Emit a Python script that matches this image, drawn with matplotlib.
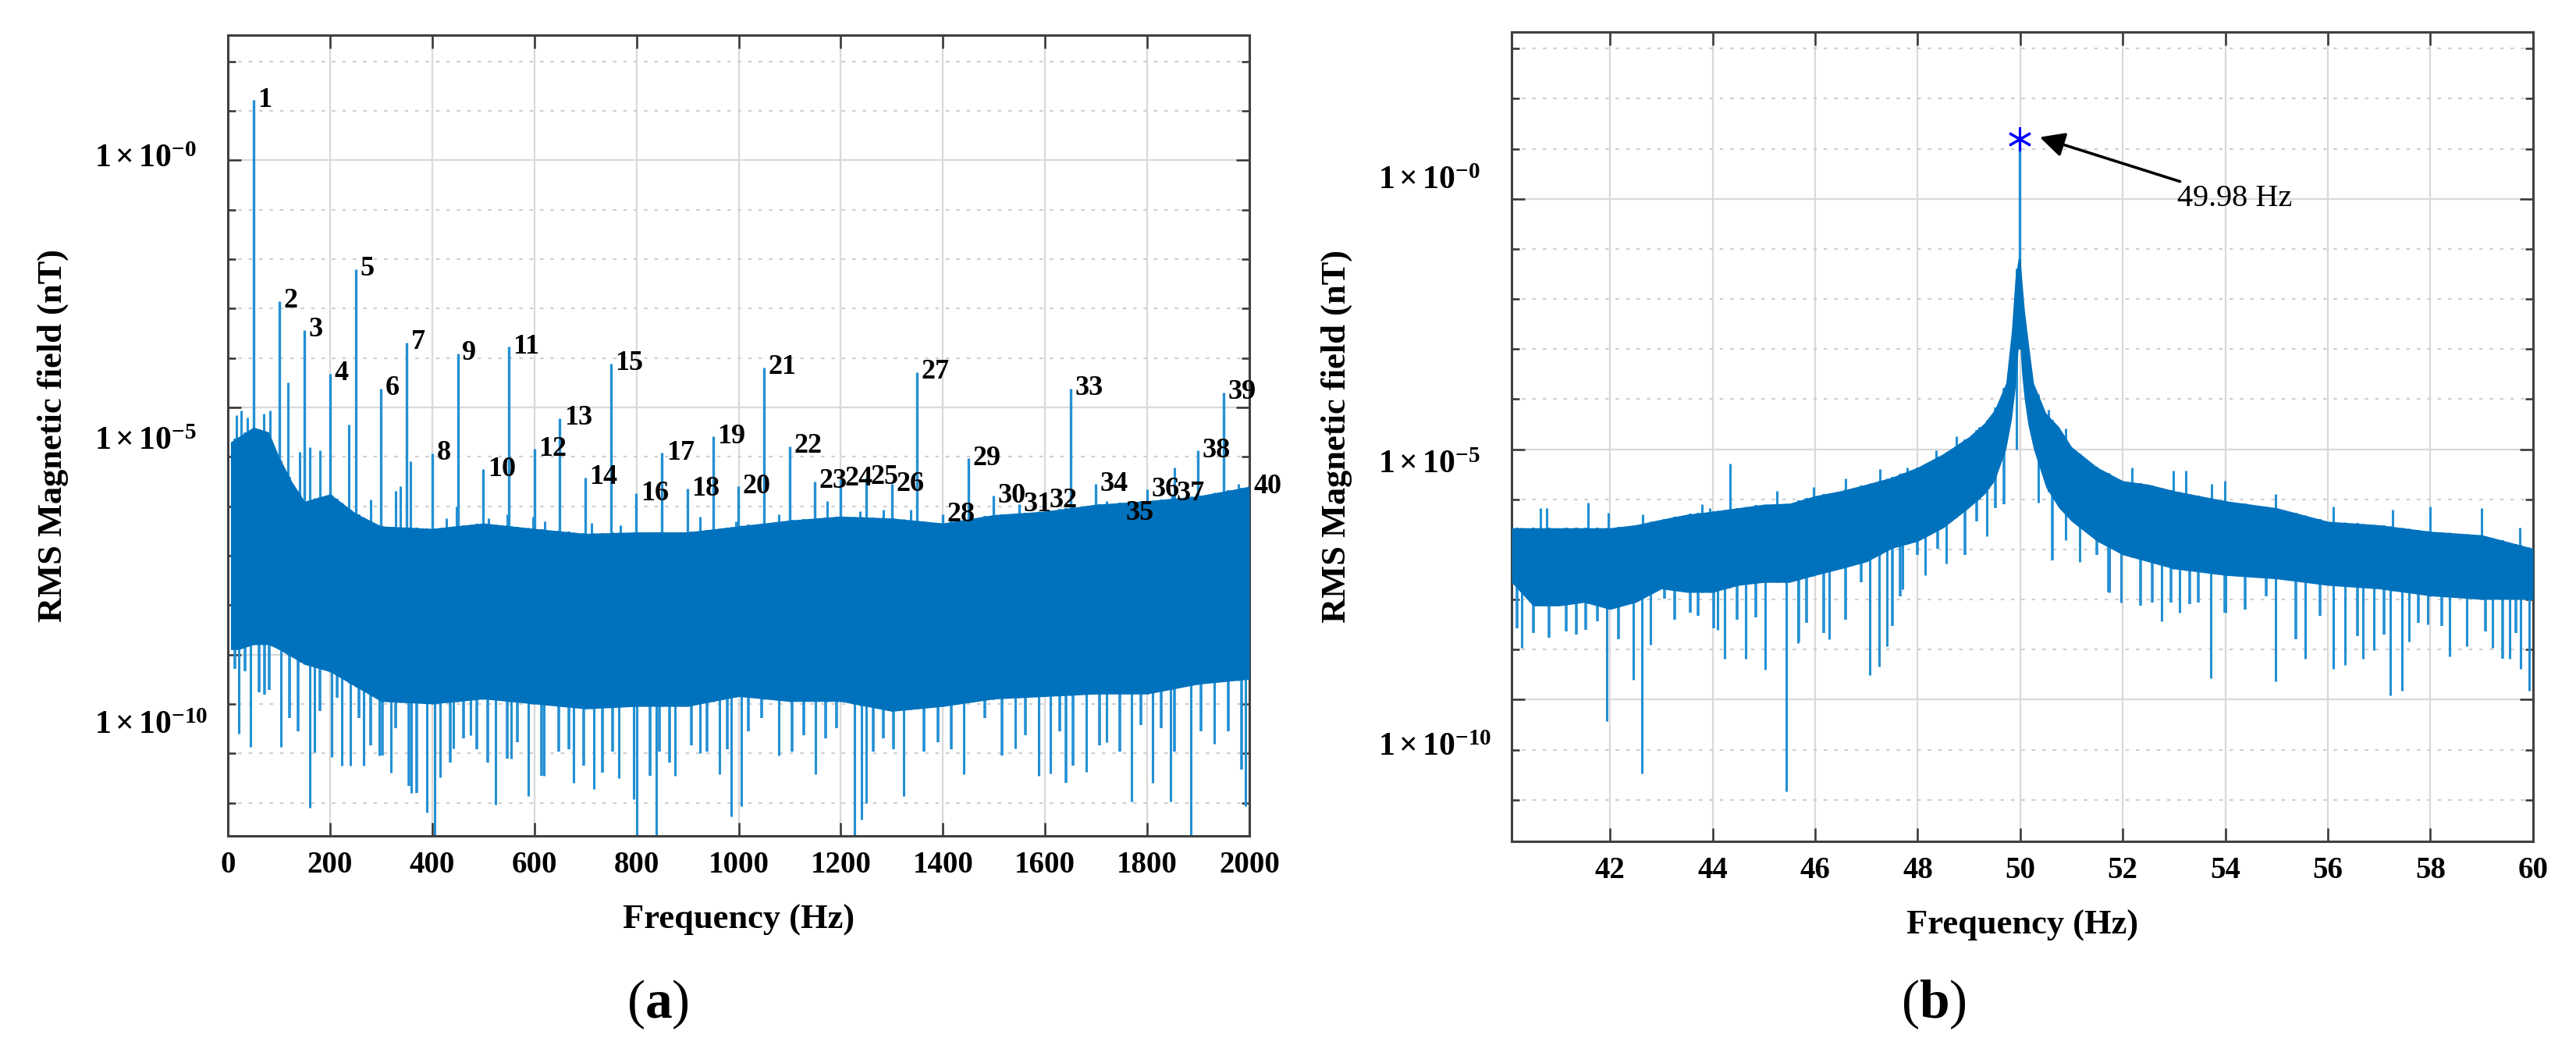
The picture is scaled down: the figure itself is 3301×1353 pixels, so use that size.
import numpy as np
import matplotlib.pyplot as plt
from matplotlib.ticker import FixedLocator, NullFormatter

plt.rcParams['font.family'] = ['Liberation Serif', 'DejaVu Serif']
plt.rcParams['mathtext.fontset'] = 'custom'
plt.rcParams['mathtext.rm'] = 'Liberation Serif'
plt.rcParams['mathtext.bf'] = 'Liberation Serif:bold'
plt.rcParams['mathtext.it'] = 'Liberation Serif:italic'

# ---------------- data (log10 of nT) ----------------
f0 = 49.98
harmonics = list(range(1, 41))
harm_log = [1.22, -2.85, -3.43, -4.32, -2.2, -4.62, -3.69, -5.93, -3.91, -6.25,
            -3.77, -5.84, -5.22, -6.42, -4.11, -6.74, -5.92, -6.65, -5.59, -6.6,
            -4.19, -5.79, -6.5, -6.45, -6.42, -6.55, -4.29, -7.17, -6.03, -6.79,
            -6.96, -6.89, -4.62, -6.55, -7.14, -6.66, -6.75, -5.87, -4.7, -6.6]

# noise floor of panel (a): upper and lower edge of the dense band
a_freq = [5, 20, 50, 80, 100, 125, 150, 200, 250, 300, 400, 500, 600, 700, 800,
          900, 1000, 1100, 1200, 1300, 1400, 1500, 1600, 1700, 1800, 1900, 2000]
a_top = [-5.7, -5.6, -5.4, -5.5, -6.0, -6.5, -6.9, -6.75, -7.14, -7.4, -7.45, -7.34,
         -7.45, -7.55, -7.52, -7.52, -7.4, -7.28, -7.2, -7.24, -7.34, -7.17, -7.1,
         -6.96, -6.89, -6.79, -6.6]
a_low = [-9.9, -9.9, -9.8, -9.8, -9.9, -10.05, -10.2, -10.35, -10.65, -10.95,
         -11.0, -10.9, -11.0, -11.1, -11.05, -11.05, -10.85, -10.95, -10.95,
         -11.15, -11.05, -10.9, -10.85, -10.8, -10.8, -10.6, -10.5]

# isolated spikes above / below the band in panel (a)
up_a_f = [17, 26, 38, 70, 83, 118, 141, 160, 180, 237, 279, 329, 337, 357, 428, 448,
          510, 547, 597, 620, 712, 769, 925, 995, 1078, 1174, 1238, 1284, 1337,
          1499, 1720, 1853, 1979]
up_a_log = [-5.16, -5.07, -5.2, -5.13, -5.06, -4.49, -5.9, -5.8, -5.87, -5.35, -6.86,
            -6.69, -6.6, -6.09, -7.24, -7.0, -7.24, -7.17, -7.21, -7.31, -7.34, -7.38,
            -7.21, -7.31, -7.17, -6.9, -7.1, -7.07, -7.07, -6.9, -6.9, -6.21, -6.55]
dip_a_f = [21, 44, 104, 160, 170, 203, 223, 240, 266, 296, 319, 359, 389, 405, 415,
           441, 475, 524, 554, 588, 619, 676, 716, 766, 794, 800, 838, 875, 925, 962,
           986, 1006, 1078, 1151, 1227, 1241, 1249, 1323, 1440, 1542, 1588, 1611,
           1681, 1720, 1770, 1810, 1846, 1885, 1932, 1992]
dip_a_log = [-11.6, -11.87, -11.87, -13.1, -11.98, -12.07, -12.25, -12.25, -12.25,
             -12.04, -12.39, -12.8, -13.2, -13.8, -12.49, -11.9, -11.63, -13.04,
             -12.1, -12.87, -12.45, -12.6, -12.72, -12.5, -12.93, -13.8, -13.8,
             -12.45, -12.0, -12.42, -13.28, -13.07, -12.04, -12.42, -13.8, -13.34,
             -13.0, -12.87, -12.42, -11.9, -12.45, -12.4, -12.37, -11.77, -12.97,
             -12.6, -12.97, -13.8, -11.8, -13.07]
# shallower fringe of dips just under the band
fringe_a_f = [14, 34, 61, 71, 81, 120, 137, 180, 213, 256, 279, 303, 329, 355, 369,
              435, 461, 488, 508, 547, 567, 614, 647, 667, 696, 733, 753, 826, 845,
              865, 908, 938, 978, 1019, 1045, 1105, 1128, 1171, 1191, 1264, 1284,
              1303, 1363, 1390, 1416, 1456, 1482, 1515, 1562, 1628, 1641, 1654,
              1707, 1747, 1787, 1827, 1853, 1906, 1959, 1985]
fringe_a_log = [-10.29, -10.33, -10.77, -10.81, -10.71, -11.29, -11.56, -11.15, -10.88,
                -11.29, -11.84, -12.04, -11.49, -12.66, -12.8, -12.18, -11.7, -11.91,
                -12.18, -12.11, -11.77, -12.45, -11.97, -11.91, -12.25, -12.39, -11.97,
                -12.45, -11.97, -12.18, -11.84, -11.97, -11.91, -11.56, -11.29, -11.97,
                -11.63, -11.7, -11.49, -11.97, -11.7, -11.91, -11.97, -11.77, -11.91,
                -10.95, -11.29, -12.04, -11.63, -11.56, -12.59, -12.25, -11.84, -11.97,
                -11.43, -11.49, -11.97, -11.56, -11.56, -12.32]

# panel (b): zoom 40-60 Hz
b_freq = [40.08, 40.5, 41, 41.5, 42, 42.5, 43, 43.5, 44, 44.5, 45, 45.5, 46, 46.5, 47,
          47.5, 48, 48.5, 49, 49.3, 49.5, 49.72, 49.83, 49.9, 49.96, 50.0, 50.03,
          50.08, 50.15, 50.26, 50.5, 50.75, 51, 51.5, 52, 52.5, 53, 54, 55, 56, 57,
          58, 59, 60]
b_top = [-6.57, -6.57, -6.57, -6.57, -6.57, -6.51, -6.4, -6.3, -6.24, -6.17, -6.1,
         -6.08, -5.93, -5.83, -5.7, -5.56, -5.36, -5.09, -4.75, -4.48, -4.21, -3.68,
         -2.63, -1.59, -1.2, -1.2, -1.59, -2.2, -2.8, -3.68, -4.28, -4.55, -4.95,
         -5.36, -5.63, -5.7, -5.83, -6.03, -6.17, -6.44, -6.51, -6.64, -6.71, -6.98]
b_low = [-7.66, -8.13, -8.13, -8.06, -8.2, -8.06, -7.79, -7.86, -7.86, -7.72, -7.66,
         -7.66, -7.52, -7.39, -7.25, -6.98, -6.84, -6.57, -6.17, -5.9, -5.63, -5.0,
         -4.4, -3.8, -3.0, -3.0, -3.5, -4.0, -4.5, -5.0, -5.76, -6.17, -6.44, -6.84,
         -7.11, -7.25, -7.39, -7.52, -7.59, -7.72, -7.79, -7.93, -8.0, -8.0]
up_b_f = [40.64, 40.76, 41.57, 41.97, 42.63, 43.79, 43.95, 44.34, 45.25, 45.97, 46.6,
          47.26, 47.79, 48.36, 48.75, 49.19, 49.38, 50.55, 50.89, 52.18, 52.99,
          53.23, 53.73, 53.99, 54.98, 56.11, 57.26, 58.0, 59.0, 59.74, 60.0]
up_b_log = [-6.17, -6.17, -6.07, -6.27, -6.3, -6.1, -6.17, -5.29, -5.83, -5.76, -5.59,
            -5.39, -5.36, -5.02, -4.75, -4.55, -4.48, -4.21, -4.58, -5.36, -5.43,
            -5.43, -5.7, -5.63, -5.9, -6.14, -6.2, -6.14, -6.17, -6.57, -6.5]
dip_b_f = [40.28, 41.93, 42.45, 42.62, 42.79, 44.09, 44.24, 44.65, 45.03, 45.43,
           45.66, 46.27, 47.07, 47.25, 47.4, 47.7, 48.14, 48.56, 49.35, 49.93,
           50.35, 50.89, 51.16, 51.74, 51.96, 52.76, 53.11, 53.72, 54.0, 54.98,
           55.56, 56.11, 56.34, 56.69, 56.9, 57.21, 57.44, 57.58, 57.95, 58.38,
           58.71, 59.21, 59.54, 59.76, 59.93]
dip_b_log = [-8.97, -10.43, -9.61, -11.47, -8.9, -8.6, -9.18, -9.18, -9.41, -11.84,
             -8.87, -8.8, -9.51, -9.34, -8.94, -7.79, -7.52, -7.28, -6.74, -5.0,
             -6.07, -6.81, -7.25, -7.86, -8.06, -8.43, -8.26, -9.58, -8.26, -9.64,
             -9.18, -9.38, -9.31, -9.18, -9.01, -9.92, -9.82, -8.84, -8.5, -9.14,
             -8.94, -8.97, -9.18, -9.38, -9.82]
fringe_b_f = [40.18, 40.51, 40.81, 41.14, 41.34, 41.52, 41.75, 42.17, 43.06, 43.26,
              43.56, 43.72, 44.02, 44.48, 44.85, 45.68, 45.84, 46.17, 46.6, 46.9,
              47.5, 47.66, 47.99, 48.39, 48.92, 49.15, 49.52, 49.68, 50.63, 51.49,
              51.72, 52.34, 52.57, 52.94, 53.3, 53.47, 53.99, 54.39, 54.79, 55.38,
              55.84, 56.57, 57.1, 57.76, 58.22, 59.08, 59.41, 59.67]
fringe_b_log = [-8.57, -8.67, -8.77, -8.64, -8.7, -8.6, -8.43, -8.8, -7.99, -8.4,
                -8.26, -8.33, -8.57, -8.4, -8.36, -8.84, -8.47, -8.67, -8.4, -7.66,
                -8.53, -7.93, -7.11, -6.98, -7.11, -6.44, -6.17, -6.1, -7.22, -7.11,
                -7.86, -8.13, -8.06, -8.06, -8.09, -8.06, -8.26, -8.2, -7.93, -8.8,
                -8.33, -8.74, -8.7, -8.47, -8.53, -8.64, -9.18, -8.67]
peak_b_log = 1.2

band_col = '#0072BD'
spike_col = '#2390d4'


def lin(v):
    return 10.0 ** np.asarray(v, dtype=float)


def style_axes(ax, ylo, yhi, xlim, xticks):
    ax.set_yscale('log')
    ax.set_xlim(*xlim)
    ax.set_ylim(10.0 ** ylo, 10.0 ** yhi)
    ax.set_xticks(xticks)
    ax.yaxis.set_major_locator(FixedLocator([1e-10, 1e-5, 1e0]))
    ax.yaxis.set_minor_locator(FixedLocator(10.0 ** np.arange(-13, 4)))
    ax.yaxis.set_major_formatter(NullFormatter())
    ax.yaxis.set_minor_formatter(NullFormatter())
    ax.tick_params(which='both', direction='in', top=True, right=True,
                   width=1.8, color='#333333')
    ax.tick_params(which='major', length=12)
    ax.tick_params(which='minor', length=7)
    ax.tick_params(axis='x', labelsize=28, pad=14)
    for lab in ax.get_xticklabels():
        lab.set_fontweight('bold')
    ax.grid(True, which='major', color='#d9d9d9', lw=1.6, ls='-')
    ax.grid(True, which='minor', axis='y', color='#cfcfcf', lw=1.6, ls=(0, (2, 4)))
    ax.set_axisbelow(True)
    for s in ax.spines.values():
        s.set_color('#404040')
        s.set_linewidth(2.2)
    ax.set_xlabel('Frequency (Hz)', fontsize=32, fontweight='bold')
    ax.set_ylabel('RMS Magnetic field (nT)', fontsize=32, fontweight='bold')
    ax.yaxis.set_label_coords(-0.156, 0.5)
    ax.xaxis.set_label_coords(0.5, -0.085)


def spikes(ax, f, v, base_f, base_v, lw=2.2):
    # each spike starts inside the band (hidden behind it) and ends at its value
    ax.vlines(f, lin(np.interp(f, base_f, base_v)), lin(v),
              color=spike_col, lw=lw, zorder=2)


fig = plt.figure(figsize=(33.01, 13.53), dpi=100)
ax1 = fig.add_axes([0.0885, 0.2084, 0.3965, 0.7583])
ax2 = fig.add_axes([0.5868, 0.2033, 0.3965, 0.7664])

# ---------------- panel (a) ----------------
style_axes(ax1, -13.67, 2.53, (0, 2000), range(0, 2001, 200))
harm_f = [f0 * k for k in harmonics]
spikes(ax1, harm_f, harm_log, a_freq, a_low, lw=2.4)
spikes(ax1, up_a_f, up_a_log, a_freq, a_low)
spikes(ax1, dip_a_f, dip_a_log, a_freq, a_top)
spikes(ax1, fringe_a_f, fringe_a_log, a_freq, a_top, lw=2.6)
ax1.fill_between(a_freq, lin(a_low), lin(a_top), color=band_col, lw=0, zorder=3)
for k, f, v in zip(harmonics, harm_f, harm_log):
    ax1.annotate(str(k), (f, 10.0 ** v), xytext=(4, 0), textcoords='offset points',
                 ha='left', va='center', fontsize=26, fontweight='bold', zorder=5)

# ---------------- panel (b) ----------------
style_axes(ax2, -12.83, 3.33, (40.08, 60), range(42, 61, 2))
spikes(ax2, up_b_f, up_b_log, b_freq, b_low)
spikes(ax2, dip_b_f, dip_b_log, b_freq, b_top)
spikes(ax2, fringe_b_f, fringe_b_log, b_freq, b_top, lw=2.6)
ax2.vlines([f0], [10.0 ** -3], [10.0 ** peak_b_log], color=spike_col, lw=2.4, zorder=2)
ax2.fill_between(b_freq, lin(b_low), lin(b_top), color=band_col, lw=0, zorder=3)
ax2.plot([f0], [10.0 ** peak_b_log], marker=(6, 2, 0), color='#0000ff',
         markersize=22, mew=2.2, zorder=6)
ax2.annotate('49.98 Hz', xy=(50.38, 10.0 ** 1.23), xytext=(53.06, 10.0 ** 0.0),
             ha='left', va='center', fontsize=29,
             arrowprops=dict(arrowstyle='-|>', color='black', lw=2.6,
                             mutation_scale=48, shrinkA=2, shrinkB=0), zorder=6)

# y tick labels, placed where the original figure shows them
ylab = [r'$\mathbf{1\times10^{-0}}$', r'$\mathbf{1\times10^{-5}}$', r'$\mathbf{1\times10^{-10}}$']
for ax, ys in ((ax1, [-0.14, -5.85, -11.6]), (ax2, [0.2, -5.48, -11.12])):
    for t, y in zip(ylab, ys):
        ax.text(-0.131, 10.0 ** y, t, transform=ax.get_yaxis_transform(),
                ha='left', va='baseline', fontsize=30)

fig.text(843 / 3301, 1 - 1287 / 1353, r'($\mathbf{a}$)', ha='center', va='center', fontsize=50)
fig.text(2478 / 3301, 1 - 1287 / 1353, r'($\mathbf{b}$)', ha='center', va='center', fontsize=50)

fig.savefig('out.png', dpi=100)
